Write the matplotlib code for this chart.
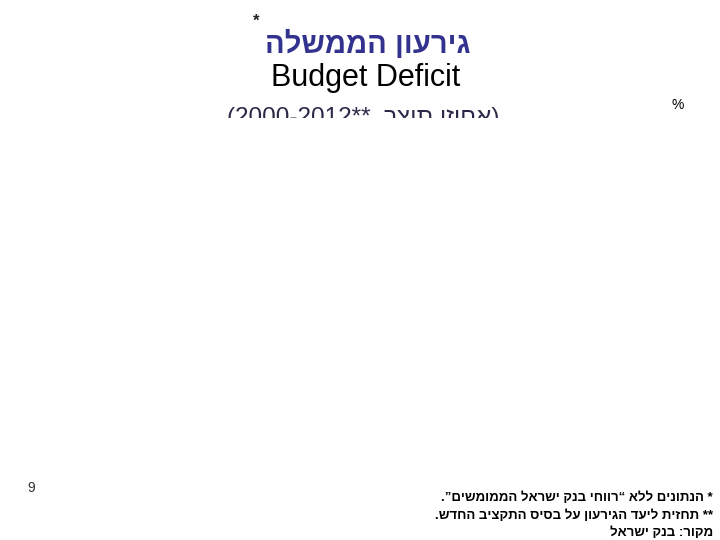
import matplotlib
matplotlib.use("Agg")
import matplotlib.pyplot as plt
from matplotlib.patches import Rectangle

# Text content (logical order); matplotlib has no bidi, so reverse for display
title_he = "גירעון הממשלה"
title_en = "Budget Deficit"
subtitle_he = "אחוזי תוצר"
subtitle_years = "2000-2012**"
unit_label = "%"
page_number = "9"
footnotes = [
    "* הנתונים ללא “רווחי בנק ישראל הממומשים”.",
    "** תחזית ליעד הגירעון על בסיס התקציב החדש.",
    "מקור: בנק ישראל",
]


def vis(s):
    return s[::-1]


W, H = 720, 540
fig = plt.figure(figsize=(7.2, 5.4), dpi=100)
fig.patch.set_facecolor("white")

FONT = ["Liberation Sans", "DejaVu Sans"]


def px(x, y):
    return x / W, 1 - y / H


# Hebrew title
fig.text(*px(368, 44), vis(title_he), family=FONT, fontsize=21, fontweight="bold",
         color="#33338f", ha="center", va="center")
fig.text(*px(256, 21), "*", family=FONT, fontsize=12, fontweight="bold",
         color="#222222", ha="center", va="center")

# English title
fig.text(*px(366, 78), title_en, family=FONT, fontsize=22, color="black",
         ha="center", va="center")

# Subtitle (clipped at the bottom in the reference)
sub = "(" + subtitle_years + "  " + vis(subtitle_he) + ")"
fig.text(*px(363, 118), sub, family=FONT, fontsize=17.5, color="#2a2a48",
         ha="center", va="center", zorder=1)
fig.patches.append(Rectangle(px(150, 540), 450 / W, (540 - 118) / H,
                             transform=fig.transFigure, facecolor="white",
                             edgecolor="none", zorder=5))

# unit
fig.text(*px(678, 105), unit_label, family=FONT, fontsize=10, color="black",
         ha="center", va="center", zorder=6)

# page number
fig.text(*px(31, 488), page_number, family=FONT, fontsize=10, color="#333333",
         ha="center", va="center", zorder=6)

# footnotes
ys = [498, 516, 533]
for txt, y in zip(footnotes, ys):
    fig.text(*px(713, y), vis(txt), family=FONT, fontsize=9.5, fontweight="bold",
             color="black", ha="right", va="center", zorder=6)

fig.savefig("out.png", dpi=100, facecolor="white")
